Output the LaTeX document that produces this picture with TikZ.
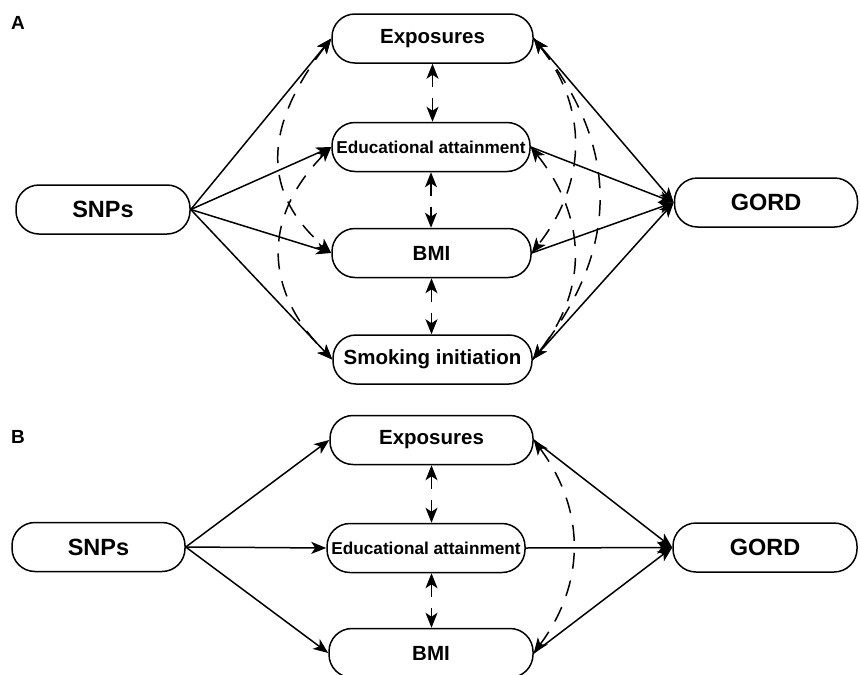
\documentclass[tikz,border=0pt]{standalone}
\usepackage{fontspec}
\setmainfont{Liberation Sans}
\usepackage{tikz}
\usetikzlibrary{arrows.meta}
\usetikzlibrary{positioning}

\tikzset{
  pill/.style = {draw, line width=1.5pt, rounded corners=23pt, minimum height=49pt,
                 minimum width=200pt, inner sep=0pt, font=\bfseries\fontsize{20.5}{24}\selectfont},
  endPill/.style = {pill, font=\bfseries\fontsize{23.5}{27}\selectfont},
  eduPill/.style = {pill, font=\bfseries\fontsize{17.2}{20}\selectfont},
  panelTag/.style = {inner sep=0pt, font=\bfseries\fontsize{19}{22}\selectfont},
  solidArrow/.style = {line width=1.5pt, -{Stealth[length=15pt,width=12pt,inset=4pt]}},
  dashArrow/.style = {line width=1.5pt,
                      {Stealth[length=15pt,width=12pt,inset=4pt]}-{Stealth[length=15pt,width=12pt,inset=4pt]},
                      dash pattern=on 16pt off 12pt},
  linkArrow/.style = {line width=1.5pt,
                      {Stealth[length=15pt,width=12pt,inset=4pt]}-{Stealth[length=15pt,width=12pt,inset=4pt]},
                      dash pattern=on 13pt off 11pt}
}

\begin{document}
\begin{tikzpicture}[x=1pt, y=-1pt]
  \useasboundingbox (0,0) rectangle (860,675);

  % panel A
  \node[panelTag] (tagA) at (18,23) {A};
  \node[endPill, minimum width=174pt] (snpsA) at (103,209.5) {SNPs};
  \node[pill, minimum width=201pt] (expA) at (432.5,38.5) {Exposures};
  \node[eduPill, minimum width=198pt] (eduA) at (431,147) {Educational attainment};
  \node[pill, minimum width=199pt] (bmiA) at (431.5,253) {BMI};
  \node[pill, minimum width=199pt] (smkA) at (432.5,359.5) {Smoking initiation};
  \node[endPill, minimum width=183pt] (gordA) at (766,202.5) {GORD};

  \foreach \t in {expA,eduA,bmiA,smkA}{
    \draw[solidArrow] (snpsA.east) -- (\t.west);
    \draw[solidArrow] (\t.east) -- (gordA.west);
  }
  \draw[linkArrow] (expA.south) -- (expA.south |- eduA.north);
  \draw[linkArrow] (eduA.south) -- (eduA.south |- bmiA.north);
  \draw[linkArrow] (bmiA.south) -- (bmiA.south |- smkA.north);

  \draw[dashArrow] (expA.west) .. controls +(-69,90) and +(-69,-60) .. (bmiA.west);
  \draw[dashArrow] (eduA.west) .. controls +(-69,70) and +(-69,-70) .. (smkA.west);
  \draw[dashArrow] (expA.east) .. controls +(55,70) and +(55,-70) .. (bmiA.east);
  \draw[dashArrow] (expA.east) .. controls +(87,110) and +(87,-110) .. (smkA.east);
  \draw[dashArrow] (eduA.east) .. controls +(56,70) and +(56,-70) .. (smkA.east);

  % panel B
  \node[panelTag] (tagB) at (18,437) {B};
  \node[endPill, minimum width=173pt] (snpsB) at (98.5,547) {SNPs};
  \node[pill, minimum width=203pt] (expB) at (431.5,440) {Exposures};
  \node[eduPill, minimum width=198pt] (eduB) at (426,548) {Educational attainment};
  \node[pill, minimum width=204pt] (bmiB) at (431,653) {BMI};
  \node[endPill, minimum width=184pt] (gordB) at (765,547.5) {GORD};

  \foreach \t in {expB,eduB,bmiB}{
    \draw[solidArrow] (snpsB.east) -- (\t.west);
    \draw[solidArrow] (\t.east) -- (gordB.west);
  }
  \draw[linkArrow] (expB.south) -- (expB.south |- eduB.north);
  \draw[linkArrow] (expB.south |- eduB.south) -- (expB.south |- bmiB.north);

  \draw[dashArrow] (expB.east) .. controls +(52,70) and +(52,-70) .. (bmiB.east);
\end{tikzpicture}
\end{document}
